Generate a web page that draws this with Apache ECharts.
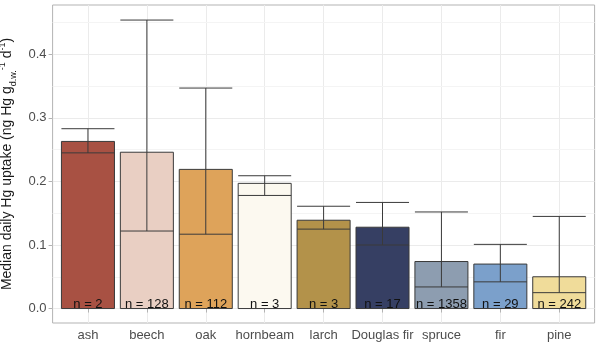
<!DOCTYPE html>
<html lang="en">
<head>
    <meta charset="UTF-8">
    <title>Median daily Hg uptake</title>
</head>
<body>
<div id="main"></div>
</body>

<style type="text/css" media="screen">
    html, body {
        width: 100%;
        height: 100%;
        overflow: hidden;
        margin: 0;
        background: #fff;
        font-family: "Liberation Sans", Arial, sans-serif;
    }

    #main {
        width: 600px;
        height: 346px;
    }
</style>
<script src="https://cdn.jsdelivr.net/npm/echarts@6/dist/echarts.min.js"></script>
<script>
    var myChart = echarts.init(document.getElementById('main'));

    // 树种及数值
    var species = ['ash', 'beech', 'oak', 'hornbeam', 'larch', 'Douglas fir', 'spruce', 'fir', 'pine'];
    var barTop = [0.263, 0.246, 0.219, 0.197, 0.139, 0.128, 0.074, 0.070, 0.050];
    var medians = [0.245, 0.122, 0.117, 0.178, 0.125, 0.100, 0.034, 0.042, 0.025];
    var upper = [0.283, 0.454, 0.347, 0.209, 0.161, 0.167, 0.152, 0.101, 0.145];
    var counts = [2, 128, 112, 3, 3, 17, 1358, 29, 242];
    var yTicks = [0, 0.1, 0.2, 0.3, 0.4];
    var yMinor = [0.05, 0.15, 0.25, 0.35, 0.45];
    var xTicks = [1, 2, 3, 4, 5, 6, 7, 8, 9];

    var palette = ['#a85143', '#e9cfc3', '#dea35a', '#fcf9f0', '#b3924a',
        '#363f63', '#8d9db0', '#7ba0cb', '#f0dc9a'];

    var data = species.map(function (s, i) {
        return [i + 1, barTop[i], medians[i], upper[i]];
    });

    var lineColor = '#3a3a3a';

    option = {
        animation: false,
        grid: {
            left: 52.6,
            right: 5.4,
            top: 5,
            bottom: 23,
            outerBoundsMode: 'none',
            containLabel: false,
            show: true,
            borderColor: '#b3b3b3',
            borderWidth: 1
        },
        xAxis: {
            type: 'value',
            min: 0.4,
            max: 9.6,
            axisLine: {show: false},
            axisTick: {
                show: true,
                length: 4,
                customValues: xTicks,
                lineStyle: {color: '#b3b3b3'}
            },
            axisLabel: {
                customValues: xTicks,
                margin: 6,
                color: '#4d4d4d',
                fontSize: 13,
                fontFamily: 'Liberation Sans',
                formatter: function (v) {
                    return species[Math.round(v) - 1];
                }
            },
            splitLine: {show: true, lineStyle: {color: '#ebebeb', width: 1}}
        },
        yAxis: {
            type: 'value',
            min: -0.02275,
            max: 0.4777,
            name: '{a|Median daily Hg uptake (ng Hg g}{sub|d.w.}{sup|-1}{a| d}{sup|-1}{a|)}',
            nameLocation: 'middle',
            nameGap: 30,
            nameRotate: 90,
            nameTextStyle: {
                rich: {
                    a: {fontSize: 14, lineHeight: 20, color: '#1a1a1a', fontFamily: 'Liberation Sans'},
                    sub: {fontSize: 9, lineHeight: 9, color: '#1a1a1a', fontFamily: 'Liberation Sans', verticalAlign: 'bottom'},
                    sup: {fontSize: 9, lineHeight: 9, color: '#1a1a1a', fontFamily: 'Liberation Sans', verticalAlign: 'top'}
                }
            },
            axisLine: {show: false},
            axisTick: {
                show: true,
                length: 4,
                customValues: yTicks,
                lineStyle: {color: '#b3b3b3'}
            },
            axisLabel: {
                customValues: yTicks,
                margin: 6,
                color: '#4d4d4d',
                fontSize: 13,
                fontFamily: 'Liberation Sans',
                formatter: function (v) {
                    return v.toFixed(1);
                }
            },
            splitLine: {show: true, lineStyle: {color: '#ebebeb', width: 1}}
        },
        series: [{
            // 次网格线
            type: 'line',
            data: [],
            z: 1,
            markLine: {
                silent: true,
                z: 1,
                symbol: 'none',
                label: {show: false},
                lineStyle: {type: 'solid', color: '#f4f4f4', width: 1},
                data: yMinor.map(function (v) {
                    return {yAxis: v};
                })
            }
        }, {
            type: 'custom',
            z: 3,
            data: data,
            encode: {x: 0, y: [1, 3]},
            renderItem: function (params, api) {
                var i = params.dataIndex;
                var x = api.value(0);
                var top = api.value(1), med = api.value(2), up = api.value(3);
                var hw = 0.45;
                var tl = api.coord([x - hw, top]);
                var br = api.coord([x + hw, 0]);
                var ml = api.coord([x - hw, med]);
                var mr = api.coord([x + hw, med]);
                var pm = api.coord([x, med]);
                var pu = api.coord([x, up]);
                var ul = api.coord([x - hw, up]);
                var ur = api.coord([x + hw, up]);
                var pb = api.coord([x, 0]);
                var lw = {stroke: lineColor, lineWidth: 1};
                return {
                    type: 'group',
                    children: [{
                        type: 'rect',
                        shape: {x: tl[0], y: tl[1], width: br[0] - tl[0], height: br[1] - tl[1]},
                        style: {fill: palette[i], stroke: lineColor, lineWidth: 1}
                    }, {
                        type: 'line',
                        shape: {x1: ml[0], y1: ml[1], x2: mr[0], y2: mr[1]},
                        style: lw
                    }, {
                        type: 'line',
                        shape: {x1: pm[0], y1: pm[1], x2: pu[0], y2: pu[1]},
                        style: lw
                    }, {
                        type: 'line',
                        shape: {x1: ul[0], y1: ul[1], x2: ur[0], y2: ur[1]},
                        style: lw
                    }, {
                        type: 'text',
                        style: {
                            text: 'n = ' + counts[i],
                            x: pb[0],
                            y: pb[1] + 2,
                            align: 'center',
                            verticalAlign: 'bottom',
                            fill: '#111',
                            font: '13px "Liberation Sans"'
                        }
                    }]
                };
            }
        }]
    };
    myChart.setOption(option);
</script>
</html>
